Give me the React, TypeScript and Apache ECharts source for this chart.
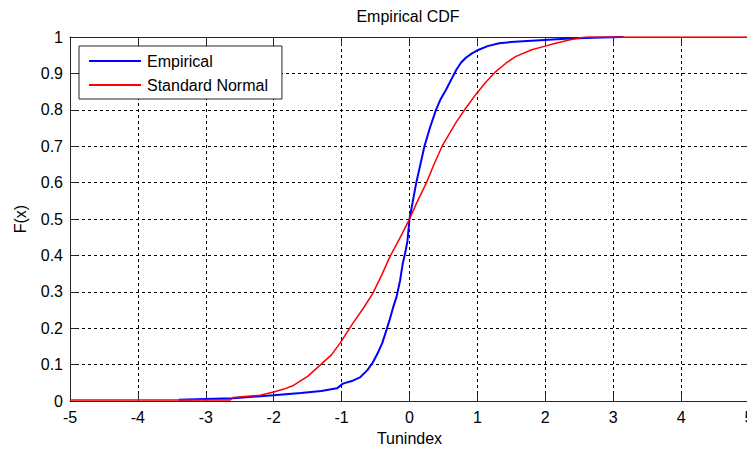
import React, { useEffect, useRef } from "react";
import * as echarts from "echarts";

const empiricalX = [
  -3.4, -2.6, -2.3, -2.0, -1.6, -1.3, -1.07, -0.98, -0.85, -0.73, -0.62, -0.54, -0.46,
  -0.4, -0.34, -0.29, -0.24, -0.19, -0.14, -0.1, -0.06, -0.03, 0.0, 0.05, 0.1, 0.16,
  0.22, 0.3, 0.39, 0.46, 0.54, 0.62, 0.69, 0.76, 0.83, 0.92, 1.02, 1.15, 1.32, 1.55,
  1.8, 2.3, 2.7, 3.15,
];
const empiricalY = [
  0.004, 0.008, 0.012, 0.016, 0.022, 0.028, 0.035, 0.048, 0.055, 0.065, 0.085, 0.106,
  0.135, 0.16, 0.195, 0.225, 0.258, 0.287, 0.33, 0.377, 0.41, 0.44, 0.5, 0.55, 0.6,
  0.65, 0.7, 0.75, 0.8, 0.83, 0.856, 0.885, 0.91, 0.93, 0.943, 0.955, 0.965, 0.975,
  0.983, 0.987, 0.99, 0.995, 0.998, 1.0,
];
const normalX = [
  -5.0, -2.64, -2.6, -2.2, -2.0, -1.85, -1.71, -1.5, -1.32, -1.15, -1.02, -0.83, -0.68,
  -0.54, -0.4, -0.29, -0.15, 0.0, 0.12, 0.25, 0.36, 0.48, 0.69, 0.83, 0.98, 1.12, 1.27,
  1.42, 1.56, 1.8, 2.0, 2.15, 2.35, 2.49, 2.6, 5.0,
];
const normalY = [
  0.003, 0.003, 0.01, 0.016, 0.025, 0.033, 0.043, 0.068, 0.098, 0.127, 0.16, 0.215,
  0.255, 0.296, 0.35, 0.396, 0.445, 0.5, 0.55, 0.6, 0.65, 0.7, 0.767, 0.805, 0.843,
  0.875, 0.905, 0.928, 0.946, 0.965, 0.975, 0.983, 0.992, 0.997, 1.0, 1.0,
];

const FONT = "'Liberation Sans', Arial, sans-serif";

export default function App() {
  const ref = useRef<HTMLDivElement>(null);
  useEffect(() => {
    if (!ref.current) return;
    const chart = echarts.init(ref.current, undefined, { renderer: "svg" });
    const axisLine = { show: true, onZero: false, lineStyle: { color: "#262626", width: 1 } };
    const tick = { show: true, inside: true, length: 8, lineStyle: { color: "#262626" } };
    const grid = { show: true, lineStyle: { color: "#000", type: [3, 3], width: 1 } };
    chart.setOption({
      animation: false,
      backgroundColor: "#fff",
      textStyle: { fontFamily: FONT },
      title: {
        text: "Empirical CDF",
        left: 408,
        textAlign: "center",
        top: 8,
        padding: 0,
        textStyle: { fontFamily: FONT, fontSize: 16, fontWeight: "normal", color: "#000" },
      },
      grid: { left: 70, top: 37, width: 679, height: 369, containLabel: false },
      legend: {
        left: 79,
        top: 46,
        orient: "vertical",
        backgroundColor: "#fff",
        borderColor: "#262626",
        borderWidth: 1,
        borderRadius: 0,
        padding: [6, 14, 5, 10],
        icon: "rect",
        itemWidth: 52,
        itemHeight: 2,
        itemGap: 6,
        textStyle: { fontFamily: FONT, fontSize: 16, color: "#000", padding: [0, 0, 0, 1], lineHeight: 18 },
        data: ["Empirical", "Standard Normal"],
      },
      xAxis: [
        {
          type: "value",
          min: -5,
          max: 5,
          interval: 1,
          position: "bottom",
          axisLine,
          axisTick: tick,
          splitLine: grid,
          axisLabel: { fontFamily: FONT, fontSize: 16, color: "#000", margin: 8 },
          name: "Tunindex",
          nameLocation: "middle",
          nameGap: 26,
          nameTextStyle: { fontFamily: FONT, fontSize: 16, color: "#000" },
        },
        {
          type: "value",
          min: -5,
          max: 5,
          interval: 1,
          position: "top",
          axisLine,
          axisTick: tick,
          splitLine: { show: false },
          axisLabel: { show: false },
        },
      ],
      yAxis: [
        {
          type: "value",
          min: 0,
          max: 1,
          interval: 0.1,
          position: "left",
          axisLine,
          axisTick: tick,
          splitLine: grid,
          axisLabel: { fontFamily: FONT, fontSize: 16, color: "#000", margin: 7 },
          name: "F(x)",
          nameLocation: "middle",
          nameGap: 42,
          nameTextStyle: { fontFamily: FONT, fontSize: 16, color: "#000" },
        },
        {
          type: "value",
          min: 0,
          max: 1,
          interval: 0.1,
          position: "right",
          axisLine,
          axisTick: tick,
          splitLine: { show: false },
          axisLabel: { show: false },
        },
      ],
      series: [
        {
          name: "Empirical",
          type: "line",
          symbol: "none",
          color: "#0000ff",
          lineStyle: { color: "#0000ff", width: 2 },
          data: empiricalX.map((x, i) => [x, empiricalY[i]]),
          z: 3,
        },
        {
          name: "Standard Normal",
          type: "line",
          symbol: "none",
          color: "#ff0000",
          lineStyle: { color: "#ff0000", width: 1.5 },
          data: normalX.map((x, i) => [x, normalY[i]]),
          z: 4,
        },
      ],
    });
    return () => chart.dispose();
  }, []);
  return (
    <div style={{ position: "absolute", left: 0, top: 0, width: 747, height: 451, overflow: "hidden" }}>
      <div ref={ref} style={{ width: 760, height: 451 }} />
    </div>
  );
}
